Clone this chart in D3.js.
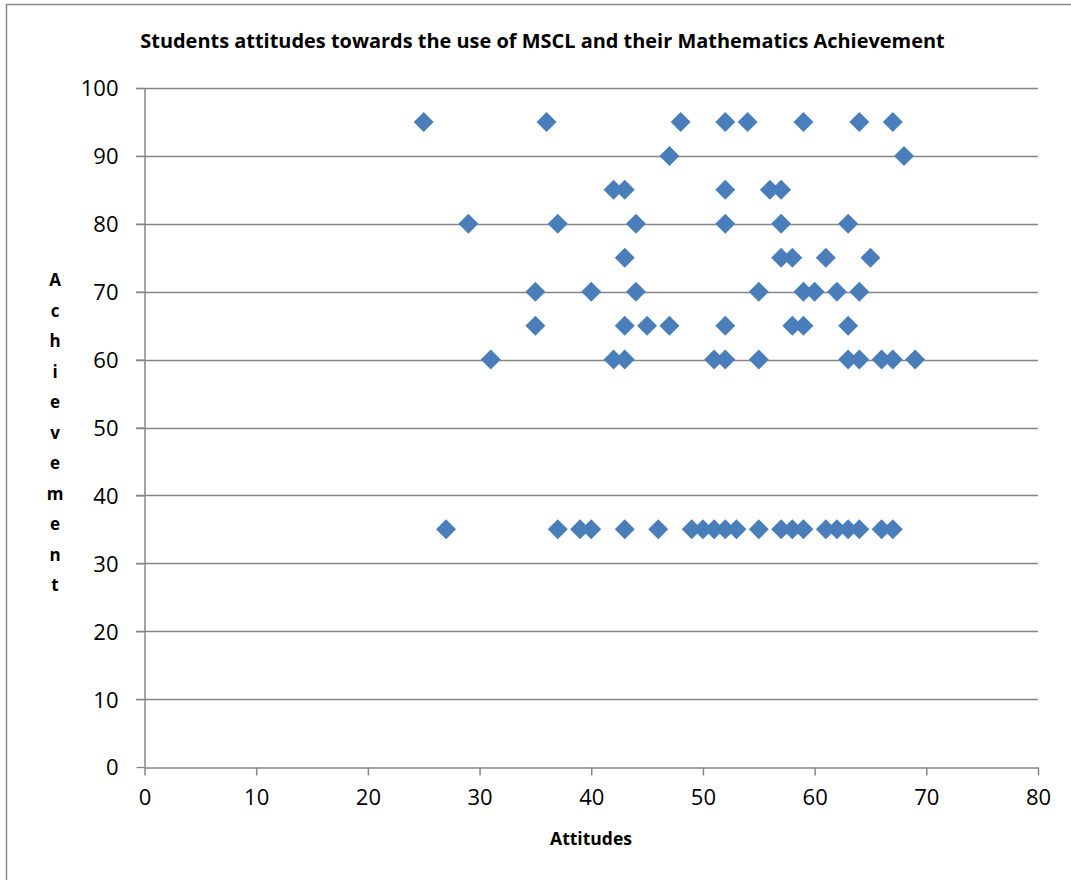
<!DOCTYPE html>
<html><head><meta charset="utf-8">
<script src="https://cdn.jsdelivr.net/npm/d3@7"></script>
<style>body{margin:0;background:#fff}svg{display:block}</style>
</head><body>
<script>
const attitudes = [
  25,36,48,52,54,59,64,67,
  47,68,
  42,43,52,56,57,
  29,37,44,52,57,63,
  43,57,58,61,65,
  35,40,44,55,59,60,62,64,
  35,43,45,47,52,58,59,63,
  31,42,43,51,52,55,63,64,66,67,69,
  27,37,39,40,43,46,49,50,51,52,53,55,57,58,59,61,62,63,64,66,67
];
const achievement = [
  95,95,95,95,95,95,95,95,
  90,90,
  85,85,85,85,85,
  80,80,80,80,80,80,
  75,75,75,75,75,
  70,70,70,70,70,70,70,70,
  65,65,65,65,65,65,65,65,
  60,60,60,60,60,60,60,60,60,60,60,
  35,35,35,35,35,35,35,35,35,35,35,35,35,35,35,35,35,35,35,35,35
];
const xTicks = [0,10,20,30,40,50,60,70,80];
const yTicks = [0,10,20,30,40,50,60,70,80,90,100];
const titleText = "Students attitudes towards the use of MSCL and their Mathematics Achievement";
const xLabel = "Attitudes";
const yLabel = "Achievement";

const W = 1071, H = 880;
const svg = d3.select("body").append("svg").attr("width", W).attr("height", H);
const font = "'Open Sans', 'Noto Sans', sans-serif";
const gray = "#868686";

svg.append("rect").attr("x",6.5).attr("y",4.5).attr("width",W+10).attr("height",H+10)
  .attr("fill","#fff").attr("stroke","#8c8c8c").attr("stroke-width",1.5);

const x = d3.scaleLinear().domain([0,80]).range([144.5,1038]);
const y = d3.scaleLinear().domain([0,100]).range([767,88]);

// gridlines
svg.append("g").selectAll("line").data(yTicks.filter(d=>d>0)).join("line")
  .attr("x1",136).attr("x2",1038).attr("y1",d=>Math.round(y(d))+0.5).attr("y2",d=>Math.round(y(d))+0.5)
  .attr("stroke",gray).attr("stroke-width",1.3);

// y axis
const yAxis = svg.append("g").attr("transform","translate(144.5,0)")
  .call(d3.axisLeft(y).tickValues(yTicks).tickSize(8).tickPadding(18).tickSizeOuter(0));
yAxis.select(".domain").attr("stroke",gray).attr("stroke-width",1.5);
yAxis.selectAll(".tick line").attr("stroke",gray).attr("stroke-width",1.3);
yAxis.selectAll(".tick text").attr("font-family",font).attr("font-size",22).attr("fill","#000").attr("dy","0.36em");

// x axis
const xAxis = svg.append("g").attr("transform","translate(0,767.5)")
  .call(d3.axisBottom(x).tickValues(xTicks).tickSize(8).tickPadding(14).tickSizeOuter(0));
xAxis.select(".domain").attr("stroke",gray).attr("stroke-width",1.5);
xAxis.selectAll(".tick line").attr("stroke",gray).attr("stroke-width",1.5);
xAxis.selectAll(".tick text").attr("font-family",font).attr("font-size",22).attr("fill","#000");

// points
const pts = attitudes.map((a,i)=>({a, v: achievement[i]}));
const diamond = d3.symbol().type(d3.symbolSquare).size(200);
svg.append("g").selectAll("path").data(pts).join("path")
  .attr("d", diamond)
  .attr("transform", d=>`translate(${x(d.a)},${y(d.v)}) rotate(45)`)
  .attr("fill","#4a7ebb");

function fitText(sel, width){
  const n = sel.node();
  const w = n.getComputedTextLength();
  const fs = parseFloat(sel.attr("font-size"));
  sel.attr("font-size", fs*width/w);
}

// title
const t = svg.append("text").attr("x",542.5).attr("y",48).attr("text-anchor","middle")
  .attr("font-family",font).attr("font-weight","bold").attr("font-size",18).attr("fill","#000").text(titleText);
fitText(t, 805);

const xl = svg.append("text").attr("x",591).attr("y",845).attr("text-anchor","middle")
  .attr("font-family",font).attr("font-weight","bold").attr("font-size",14).attr("fill","#000").text(xLabel);
fitText(xl, 82);

// vertical stacked y label
const yl = svg.append("g").attr("font-family",font).attr("font-weight","bold")
  .attr("fill","#000").attr("text-anchor","middle");
yl.selectAll("text").data(yLabel.split("")).join("text")
  .attr("x",55).attr("y",(d,i)=>286+i*30.5).style("font-size","17px").text(d=>d);
</script>
</body></html>
